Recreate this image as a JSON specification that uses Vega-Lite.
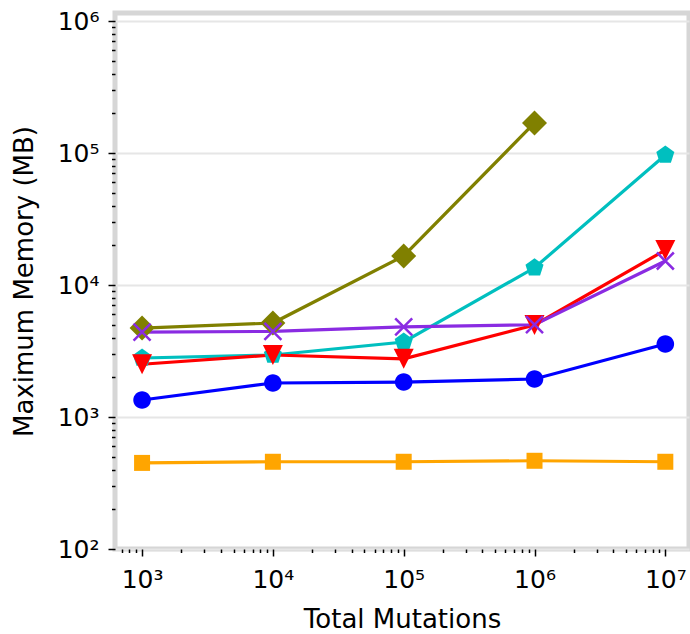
{
  "$schema": "https://vega.github.io/schema/vega-lite/v6.json",
  "autosize": "none",
  "width": 574,
  "height": 536,
  "padding": {"left": 115, "top": 13, "right": 1, "bottom": 85},
  "background": "white",
  "config": {
    "font": "DejaVu Sans",
    "view": {"stroke": "#d6d6d6", "strokeWidth": 5},
    "axis": {"labelFont": "DejaVu Sans", "titleFont": "DejaVu Sans", "titleFontWeight": "normal", "labelColor": "black", "titleColor": "black", "domain": false, "tickColor": "black", "tickWidth": 1.5}
  },
  "data": {
    "values": [
      {"series": "A", "mutations": 1000, "memory": 4720},
      {"series": "A", "mutations": 10000, "memory": 5150},
      {"series": "A", "mutations": 100000, "memory": 16600},
      {"series": "A", "mutations": 1000000, "memory": 169000},
      {"series": "B", "mutations": 1000, "memory": 2800},
      {"series": "B", "mutations": 10000, "memory": 2950},
      {"series": "B", "mutations": 100000, "memory": 3700},
      {"series": "B", "mutations": 1000000, "memory": 13500},
      {"series": "B", "mutations": 10000000, "memory": 96600},
      {"series": "C", "mutations": 1000, "memory": 2510},
      {"series": "C", "mutations": 10000, "memory": 2950},
      {"series": "C", "mutations": 100000, "memory": 2760},
      {"series": "C", "mutations": 1000000, "memory": 4980},
      {"series": "C", "mutations": 10000000, "memory": 18400},
      {"series": "D", "mutations": 1000, "memory": 4400},
      {"series": "D", "mutations": 10000, "memory": 4450},
      {"series": "D", "mutations": 100000, "memory": 4810},
      {"series": "D", "mutations": 1000000, "memory": 5000},
      {"series": "D", "mutations": 10000000, "memory": 15200},
      {"series": "E", "mutations": 1000, "memory": 1345},
      {"series": "E", "mutations": 10000, "memory": 1810},
      {"series": "E", "mutations": 100000, "memory": 1840},
      {"series": "E", "mutations": 1000000, "memory": 1940},
      {"series": "E", "mutations": 10000000, "memory": 3570},
      {"series": "F", "mutations": 1000, "memory": 449},
      {"series": "F", "mutations": 10000, "memory": 458},
      {"series": "F", "mutations": 100000, "memory": 458},
      {"series": "F", "mutations": 1000000, "memory": 466},
      {"series": "F", "mutations": 10000000, "memory": 458}
    ]
  },
  "encoding": {
    "x": {
      "field": "mutations", "type": "quantitative",
      "scale": {"type": "log", "domain": [621, 15170000], "nice": false},
      "axis": {
        "title": "Total Mutations", "titleFontSize": 26, "titlePadding": 14,
        "labelFontSize": 25, "labelPadding": 11, "grid": false,
        "values": [700, 800, 900, 1000, 2000, 3000, 4000, 5000, 6000, 7000, 8000, 9000, 10000, 20000, 30000, 40000, 50000, 60000, 70000, 80000, 90000, 100000, 200000, 300000, 400000, 500000, 600000, 700000, 800000, 900000, 1000000, 2000000, 3000000, 4000000, 5000000, 6000000, 7000000, 8000000, 9000000, 10000000],
        "labelExpr": "datum.value == 1000 ? '10³' : datum.value == 10000 ? '10⁴' : datum.value == 100000 ? '10⁵' : datum.value == 1000000 ? '10⁶' : datum.value == 10000000 ? '10⁷' : ''",
        "tickSize": {"condition": {"test": "abs(log(datum.value)/LN10 - round(log(datum.value)/LN10)) < 0.001", "value": 7}, "value": 3.5},
        "labelOverlap": false
      }
    },
    "y": {
      "field": "memory", "type": "quantitative",
      "scale": {"type": "log", "domain": [100, 1150000], "nice": false},
      "axis": {
        "title": "Maximum Memory (MB)", "titleFontSize": 26, "titlePadding": 20,
        "labelFontSize": 25, "labelPadding": 9,
        "values": [200, 300, 400, 500, 600, 700, 800, 900, 1000, 2000, 3000, 4000, 5000, 6000, 7000, 8000, 9000, 10000, 20000, 30000, 40000, 50000, 60000, 70000, 80000, 90000, 100000, 200000, 300000, 400000, 500000, 600000, 700000, 800000, 900000, 1000000, 100],
        "labelExpr": "datum.value == 100 ? '10²' : datum.value == 1000 ? '10³' : datum.value == 10000 ? '10⁴' : datum.value == 100000 ? '10⁵' : datum.value == 1000000 ? '10⁶' : ''",
        "tickSize": {"condition": {"test": "abs(log(datum.value)/LN10 - round(log(datum.value)/LN10)) < 0.001", "value": 7}, "value": 3.5},
        "grid": true, "gridColor": "#e6e6e6", "gridWidth": 2,
        "gridOpacity": {"condition": {"test": "abs(log(datum.value)/LN10 - round(log(datum.value)/LN10)) < 0.001", "value": 1}, "value": 0},
        "labelOverlap": false
      }
    },
    "color": {
      "field": "series", "type": "nominal", "legend": null,
      "scale": {"domain": ["F", "E", "C", "A", "B", "D"], "range": ["#FFA500", "#0000FF", "#FF0000", "#808000", "#00BFBF", "#8A2BE2"]}
    }
  },
  "layer": [
    {"mark": {"type": "line", "strokeWidth": 3.2}},
    {
      "transform": [{"filter": "datum.series != 'D'"}],
      "mark": {"type": "point", "filled": true, "opacity": 1, "size": 400},
      "encoding": {
        "shape": {
          "field": "series", "type": "nominal", "legend": null,
          "scale": {"domain": ["F", "E", "C", "A", "B"], "range": [
            "M-0.8,-0.8L0.8,-0.8L0.8,0.8L-0.8,0.8Z",
            "M-0.88,0A0.88,0.88 0 1,0 0.88,0A0.88,0.88 0 1,0 -0.88,0Z",
            "M-1,-1L1,-1L0,1Z",
            "M0,-1.25L1.25,0L0,1.25L-1.25,0Z",
            "M0,-0.95L0.9035,-0.2936L0.5584,0.7686L-0.5584,0.7686L-0.9035,-0.2936Z"
          ]}
        }
      }
    },
    {
      "transform": [{"filter": "datum.series == 'D'"}],
      "mark": {"type": "point", "filled": false, "opacity": 1, "shape": "M-0.85,-0.85L0.85,0.85M0.85,-0.85L-0.85,0.85", "size": 400, "strokeWidth": 2.5}
    }
  ]
}
